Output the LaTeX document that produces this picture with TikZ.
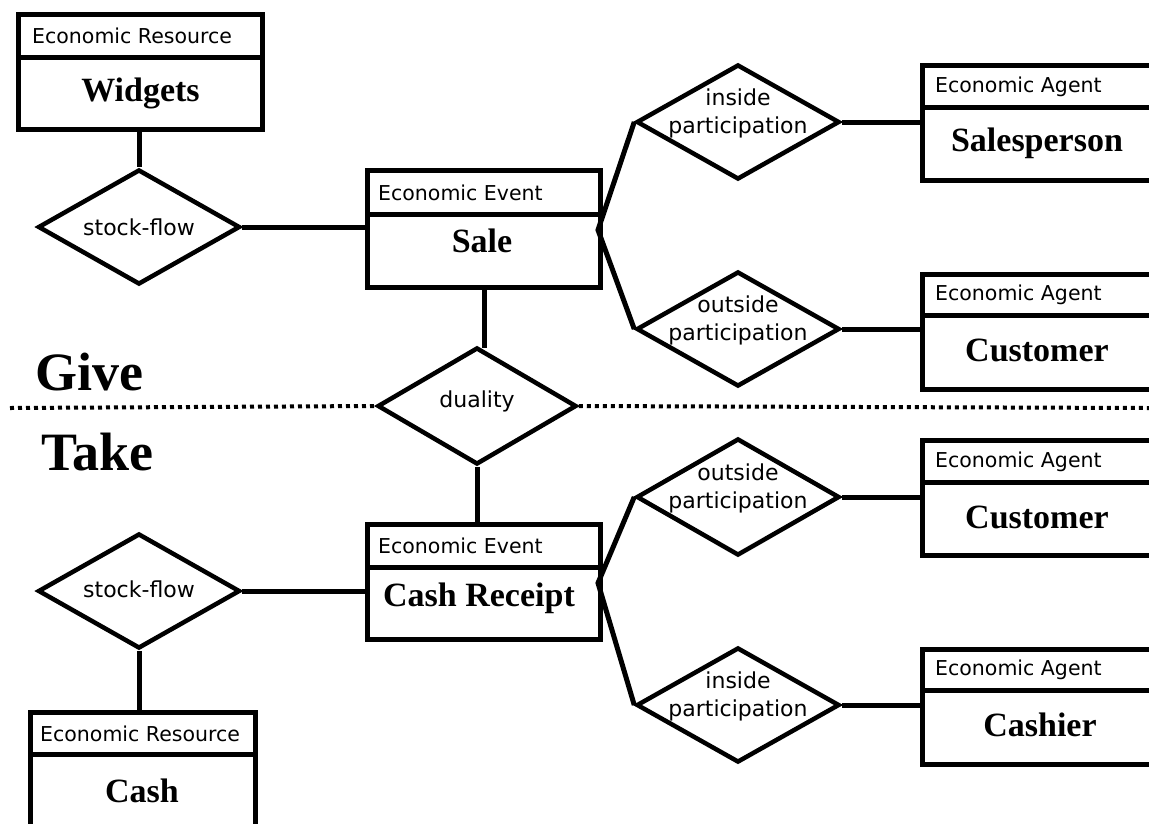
\documentclass[tikz,border=0pt]{standalone}
\usepackage{fontspec}
\setmainfont{Liberation Serif}
\newfontfamily\lblfamily{DejaVu Sans}
\usetikzlibrary{shapes.geometric}
\newcommand{\mylbl}{\lblfamily\fontsize{20.5}{28}\selectfont}
\newcommand{\myrel}{\lblfamily\fontsize{22}{28}\selectfont}
\newcommand{\mybig}{\bfseries\fontsize{34}{40}\selectfont}
\newcommand{\myhuge}{\bfseries\fontsize{54}{60}\selectfont}
\begin{document}
\begin{tikzpicture}[x=1pt,y=-1pt,
  hdr/.style={draw,line width=5pt,rectangle,anchor=north west,inner sep=0pt},
  bdy/.style={draw,line width=5pt,rectangle,anchor=north west,inner sep=0pt,font=\mybig},
  hdrtxt/.style={anchor=west,inner sep=0pt,font=\mylbl},
  rel/.style={draw,diamond,line width=4.5pt,inner sep=0pt,minimum width=203pt,minimum height=115pt},
  reltxt/.style={inner sep=0pt,font=\myrel,align=center},
  conn/.style={line width=5pt},
  sep/.style={line width=4pt,dash pattern=on 4pt off 4pt},
  side/.style={anchor=base west,inner sep=0pt,font=\myhuge}]
\useasboundingbox (0,0) rectangle (1149,823);
\clip (0,0) rectangle (1149,823);

% ---- boxes: Give side
\node[hdr,minimum width=244pt,minimum height=43pt] (wH) at (16,12) {};
\node[hdrtxt] (wHt) at ([xshift=16pt]wH.west) {Economic Resource};
\node[bdy,minimum width=244pt,minimum height=72pt] (wB) at (16,55) {Widgets};

\node[hdr,minimum width=233pt,minimum height=44pt] (sH) at (365,168) {};
\node[hdrtxt] (sHt) at ([xshift=13pt]sH.west) {Economic Event};
\node[bdy,minimum width=233pt,minimum height=73pt] (sB) at (365,212) {};
\node[inner sep=0pt,font=\mybig,anchor=base] (sBt) at (482,252) {Sale};

\node[hdr,minimum width=260pt,minimum height=42pt] (spH) at (920,63) {};
\node[hdrtxt] (spHt) at ([xshift=15pt]spH.west) {Economic Agent};
\node[bdy,minimum width=260pt,minimum height=73pt] (spB) at (920,105) {};
\node[inner sep=0pt,font=\mybig,anchor=base] (spBt) at (1037,151) {Salesperson};

\node[hdr,minimum width=260pt,minimum height=41pt] (c1H) at (920,272) {};
\node[hdrtxt] (c1Ht) at ([xshift=15pt]c1H.west) {Economic Agent};
\node[bdy,minimum width=260pt,minimum height=74pt] (c1B) at (920,313) {};
\node[inner sep=0pt,font=\mybig,anchor=base] (c1Bt) at (1037,361) {Customer};

% ---- boxes: Take side
\node[hdr,minimum width=233pt,minimum height=43pt] (rH) at (365,522) {};
\node[hdrtxt] (rHt) at ([xshift=13pt]rH.west) {Economic Event};
\node[bdy,minimum width=233pt,minimum height=72pt] (rB) at (365,565) {};
\node[inner sep=0pt,font=\mybig,anchor=base] (rBt) at (479,606) {Cash Receipt};

\node[hdr,minimum width=260pt,minimum height=42pt] (c2H) at (920,438) {};
\node[hdrtxt] (c2Ht) at ([xshift=15pt]c2H.west) {Economic Agent};
\node[bdy,minimum width=260pt,minimum height=73pt] (c2B) at (920,480) {};
\node[inner sep=0pt,font=\mybig,anchor=base] (c2Bt) at (1037,528) {Customer};

\node[hdr,minimum width=260pt,minimum height=41pt] (kH) at (920,647) {};
\node[hdrtxt] (kHt) at ([xshift=15pt]kH.west) {Economic Agent};
\node[bdy,minimum width=260pt,minimum height=74pt] (kB) at (920,688) {};
\node[inner sep=0pt,font=\mybig,anchor=base] (kBt) at (1040,736) {Cashier};

\node[hdr,minimum width=225pt,minimum height=42pt] (cH) at (28,710) {};
\node[hdrtxt] (cHt) at ([xshift=12pt]cH.west) {Economic Resource};
\node[bdy,minimum width=225pt,minimum height=90pt] (cB) at (28,752) {};
\node[inner sep=0pt,font=\mybig,anchor=base] (cBt) at (142,802) {Cash};

% ---- relationships
\node[rel,minimum width=202pt] (sf1) at (139,227) {};
\node[reltxt] (sf1t) at (sf1.center) {stock-flow};
\node[rel,minimum width=199pt,minimum height=117pt] (du) at (477,406) {};
\node[reltxt] (dut) at ([yshift=5pt]du.center) {duality};
\node[rel] (ip1) at (738,122) {};
\node[reltxt] (ip1t) at ([yshift=9pt]ip1.center) {inside\\participation};
\node[rel] (op1) at (738,329) {};
\node[reltxt] (op1t) at ([yshift=9pt]op1.center) {outside\\participation};

\node[rel,minimum width=202pt] (sf2) at (139,591) {};
\node[reltxt] (sf2t) at ([yshift=2pt]sf2.center) {stock-flow};
\node[rel,minimum height=117pt] (op2) at (738,497) {};
\node[reltxt] (op2t) at ([yshift=9pt]op2.center) {outside\\participation};
\node[rel] (ip2) at (738,705) {};
\node[reltxt] (ip2t) at ([yshift=9pt]ip2.center) {inside\\participation};

% ---- connectors
\coordinate (sR) at (598,230);
\coordinate (rR) at (598,583);
\coordinate (gl) at (10,408);
\coordinate (gr) at (1149,408);

\draw[conn] (wB.south -| sf1.north) -- (sf1.north);
\draw[conn] (sf1.east) -- (sf1.east -| sB.west);
\draw[conn] (sB.south) -- ([yshift=-3pt]sB.south |- du.north);
\draw[conn] (ip1.west) -- (sR) -- (op1.west);
\draw[conn] (ip1.east) -- (ip1.east -| spB.west);
\draw[conn] (op1.east) -- (op1.east -| c1B.west);

\draw[conn] (du.south) -- (du.south |- rH.north);
\draw[conn] (sf2.east) -- (sf2.east -| rB.west);
\draw[conn] (sf2.south) -- (sf2.south |- cH.north);
\draw[conn] (op2.west) -- (rR) -- (ip2.west);
\draw[conn] (op2.east) -- (op2.east -| c2B.west);
\draw[conn] (ip2.east) -- (ip2.east -| kB.west);

\draw[sep] (gl) -- (du.west);
\draw[sep] (du.east) -- (gr);

% ---- side labels
\node[side] (give) at (35,390) {Give};
\node[side] (take) at (41,470) {Take};
\end{tikzpicture}
\end{document}
